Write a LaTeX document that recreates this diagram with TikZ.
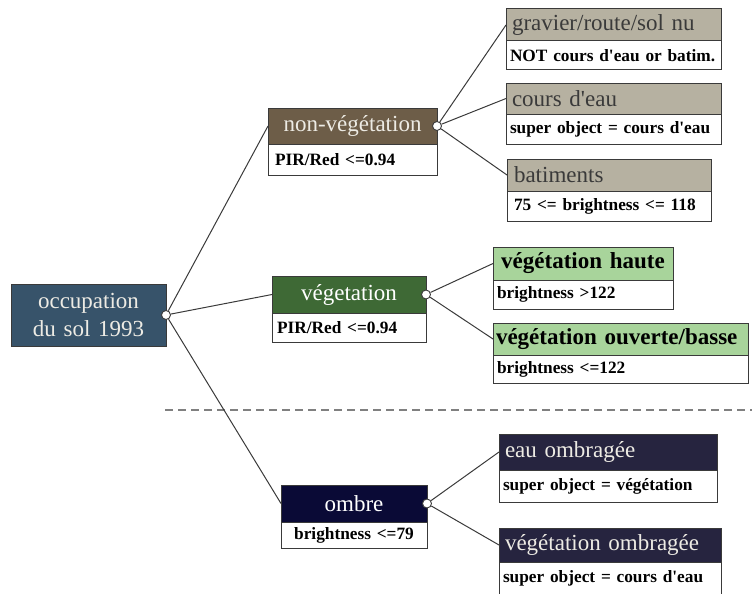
\documentclass[tikz,border=0pt]{standalone}
\usepackage{fontspec}
\setmainfont{Liberation Serif}
\definecolor{bordc}{HTML}{3A3A3A}
\definecolor{rootc}{HTML}{37536A}
\definecolor{brownc}{HTML}{6D5D48}
\definecolor{beigec}{HTML}{B6B1A1}
\definecolor{dgreenc}{HTML}{3E6935}
\definecolor{lgreenc}{HTML}{A8D49B}
\definecolor{navyc}{HTML}{0A0A36}
\definecolor{dnavyc}{HTML}{26243F}
\definecolor{lighttxt}{HTML}{EDEBE4}
\definecolor{darktxt}{HTML}{3A3A3A}
\definecolor{dashc}{HTML}{808080}
\newcommand{\sq}{\textquotesingle}
\tikzset{
  box/.style={draw=bordc, line width=1pt, rectangle, anchor=north west,
    inner ysep=0pt, outer sep=0pt},
  hdr/.style={box, font=\fontsize{23}{28}\selectfont},
  bdy/.style={box, fill=white, text=black, font=\bfseries\fontsize{17.3}{20}\selectfont},
  dot/.style={circle, draw=bordc, fill=white, line width=0.9pt, minimum size=9pt, inner sep=0pt},
  link/.style={draw=bordc, line width=1pt},
}
\begin{document}
\begin{tikzpicture}[x=1pt,y=-1pt]
\useasboundingbox (0,0) rectangle (752,594);
% dashed separator
\coordinate (dl) at (165,410);
\coordinate (dr) at (752,410);
\draw[dashc, line width=1.2pt, dash pattern=on 8pt off 5pt] (dl) -- (dr);

% root
\node[hdr, fill=rootc, text=lighttxt, align=center, minimum width=155pt, minimum height=62pt, text width=145pt, inner xsep=5pt] (root) at (11,284) {occupation\\du sol 1993};

% non-vegetation
\node[hdr, fill=brownc, text=lighttxt, align=center, text width=159pt, inner xsep=5pt, minimum height=36pt] (nv) at (268,108) {non-végétation};
\node[bdy, align=left, text width=155pt, inner xsep=7pt, minimum height=31pt] (nvb) at (nv.south west) {PIR/Red <=0.94};

\node[hdr, fill=beigec, text=darktxt, align=left, text width=203pt, inner xsep=6pt, minimum height=32pt] (gr) at (506,9) {gravier/route/sol nu};
\node[bdy, align=left, text width=207pt, inner xsep=4pt, minimum height=29pt] (grb) at (gr.south west) {NOT cours d\sq eau or batim.};

\node[hdr, fill=beigec, text=darktxt, align=left, text width=203pt, inner xsep=6pt, minimum height=31pt] (ce) at (506,83) {cours d\sq eau};
\node[bdy, align=left, text width=207pt, inner xsep=4pt, minimum height=30pt] (ceb) at (ce.south west) {super object = cours d\sq eau};

\node[hdr, fill=beigec, text=darktxt, align=left, text width=190pt, inner xsep=7pt, minimum height=32pt] (ba) at (507,159) {batiments};
\node[bdy, align=left, text width=190pt, inner xsep=7pt, minimum height=30pt] (bab) at (ba.south west) {75 <= brightness <= 118};

% vegetation
\node[hdr, fill=dgreenc, text=white, align=center, text width=144pt, inner xsep=5pt, minimum height=37pt] (vg) at (272,276) {végetation};
\node[bdy, align=left, text width=144pt, inner xsep=5pt, minimum height=29pt] (vgb) at (vg.south west) {PIR/Red <=0.94};

\node[hdr, fill=lgreenc, text=black, font=\bfseries\fontsize{23}{28}\selectfont, align=center, text width=170pt, inner xsep=5pt, minimum height=33pt] (vh) at (493,247) {végétation haute};
\node[bdy, align=left, text width=172pt, inner xsep=4pt, minimum height=29pt] (vhb) at (vh.south west) {brightness >122};

\node[hdr, fill=lgreenc, text=black, font=\bfseries\fontsize{23}{28}\selectfont, align=left, text width=249pt, inner xsep=3pt, minimum height=32pt] (vo) at (493,323) {végétation ouverte/basse};
\node[bdy, align=left, text width=247pt, inner xsep=4pt, minimum height=28pt] (vob) at (vo.south west) {brightness <=122};

% ombre
\node[hdr, fill=navyc, text=white, align=center, text width=136pt, inner xsep=5pt, minimum height=37pt] (om) at (281,485) {ombre};
\node[bdy, align=center, text width=136pt, inner xsep=5pt, minimum height=26pt] (omb) at (om.south west) {brightness <=79};

\node[hdr, fill=dnavyc, text=lighttxt, align=left, text width=206pt, inner xsep=6pt, minimum height=36pt] (eo) at (499,434) {eau ombragée};
\node[bdy, align=left, text width=210pt, inner xsep=4pt, minimum height=32pt] (eob) at (eo.south west) {super object = végétation};

\node[hdr, fill=dnavyc, text=lighttxt, align=left, text width=210pt, inner xsep=6pt, minimum height=34pt] (vm) at (499,528) {végétation ombragée};
\node[bdy, align=left, text width=214pt, inner xsep=4pt, minimum height=32pt] (vmb) at (vm.south west) {super object = cours d\sq eau};

% connector dots
\node[dot] (c0) at (root.east) {};
\node[dot] (c1) at (nv.east) {};
\node[dot] (c2) at (vg.east) {};
\node[dot] (c3) at (om.east) {};

% connectors
\draw[link] (c0) -- (nv.west);
\draw[link] (c0) -- (vg.west);
\draw[link] (c0) -- (om.west);
\draw[link] (c1) -- (gr.west);
\draw[link] (c1) -- (ce.west);
\draw[link] (c1) -- (ba.west);
\draw[link] (c2) -- (vh.west);
\draw[link] (c2) -- (vo.west);
\draw[link] (c3) -- (eo.west);
\draw[link] (c3) -- (vm.west);
\end{tikzpicture}
\end{document}
